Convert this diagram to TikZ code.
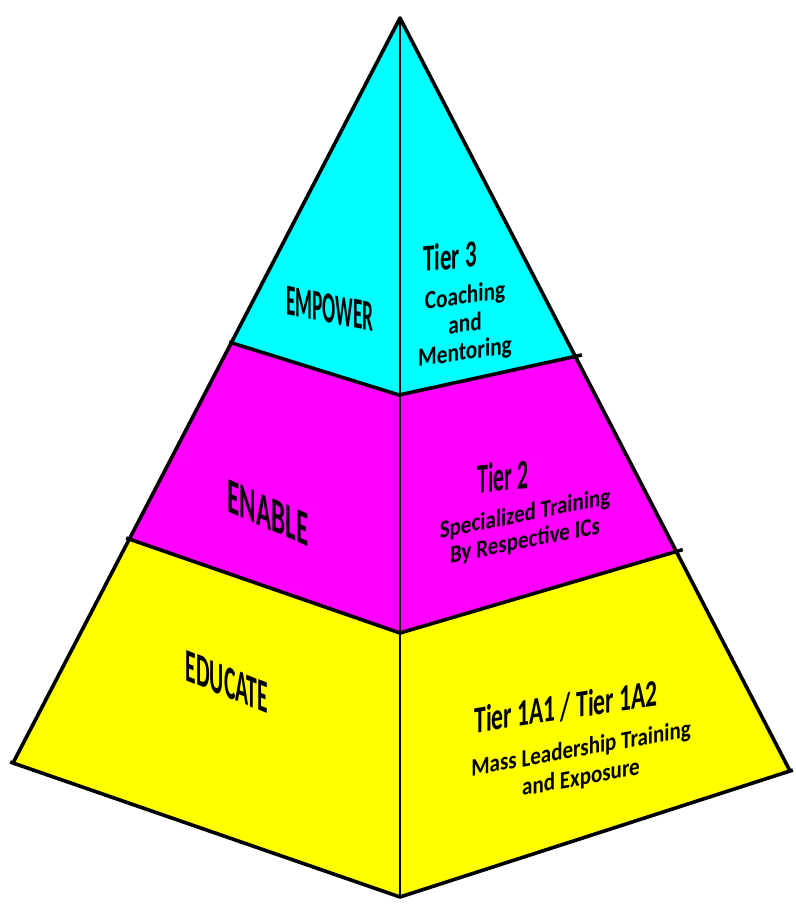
\documentclass[tikz,border=0pt]{standalone}
\usepackage{fontspec}
\setmainfont{Carlito}
\definecolor{pcyan}{RGB}{0,255,255}
\definecolor{pmagenta}{RGB}{255,0,255}
\definecolor{pyellow}{RGB}{255,255,0}
\begin{document}
\begin{tikzpicture}[x=1pt,y=-1pt,
  edge/.style={line width=3.6pt,line join=round,line cap=round},
  midline/.style={line width=2.4pt},
  biglabel/.style={font=\bfseries\fontsize{50}{50}\selectfont,inner sep=0pt},
  tierlabel/.style={font=\bfseries\fontsize{38}{38}\selectfont,inner sep=0pt},
  sublabel/.style={font=\bfseries\fontsize{26}{28}\selectfont,inner sep=0pt,align=center}]
\useasboundingbox (0,0) rectangle (795,904);
\fill[white] (0,0) rectangle (795,904);
% key points
\coordinate (A) at (400,18);
\coordinate (L1) at (232,343);
\coordinate (C1) at (399,395);
\coordinate (R1) at (577,356);
\coordinate (L2) at (129,539);
\coordinate (C2) at (400,633);
\coordinate (R2) at (678,551);
\coordinate (L3) at (13,763);
\coordinate (C3) at (400,897);
\coordinate (R3) at (790,771);
% fills
\fill[pcyan] (A) -- (L1) -- (C1) -- (R1) -- cycle;
\fill[pmagenta] (L1) -- (C1) -- (R1) -- (R2) -- (C2) -- (L2) -- cycle;
\fill[pyellow] (L2) -- (C2) -- (R2) -- (R3) -- (C3) -- (L3) -- cycle;
% lines
\draw[midline] (A) -- (C3);
\draw[edge] (L3) -- (A) -- (R3);
\draw[edge,line cap=butt,shorten <=-3pt,shorten >=-5pt] (L1) -- (C1) -- (R1);
\draw[edge,line cap=butt,shorten <=-3pt,shorten >=-5pt] (L2) -- (C2) -- (R2);
\draw[edge,line cap=butt,shorten <=-3pt,shorten >=-3pt] (L3) -- (C3) -- (R3);
% left labels
\node[biglabel,yslant=-0.19,xscale=0.44,font=\bfseries\fontsize{44}{44}\selectfont] (empower) at (330,309) {EMPOWER};
\node[biglabel,yslant=-0.44,xscale=0.50] (enable) at (268,513) {ENABLE};
\node[biglabel,yslant=-0.40,xscale=0.46,font=\bfseries\fontsize{47}{47}\selectfont] (educate) at (227,682) {EDUCATE};
% right labels
\node[tierlabel,yslant=0.10,xscale=0.6] (t3) at (450,256) {Tier 3};
\node[sublabel,yslant=0.15,xscale=0.82] (s3) at (465,325) {Coaching\\and\\Mentoring};
\node[tierlabel,yslant=0.10,xscale=0.52,font=\bfseries\fontsize{42}{42}\selectfont] (t2) at (503,476) {Tier 2};
\node[sublabel,yslant=0.2,xscale=0.84,font=\bfseries\fontsize{25}{27}\selectfont] (s2) at (525,528) {Specialized Training\\By Respective ICs};
\node[tierlabel,yslant=0.15,xscale=0.62] (t1) at (566,707) {Tier 1A1 / Tier 1A2};
\node[sublabel,yslant=0.18,xscale=0.84,font=\bfseries\fontsize{25}{29}\selectfont] (s1) at (581,764) {Mass Leadership Training\\and Exposure};
\end{tikzpicture}
\end{document}
